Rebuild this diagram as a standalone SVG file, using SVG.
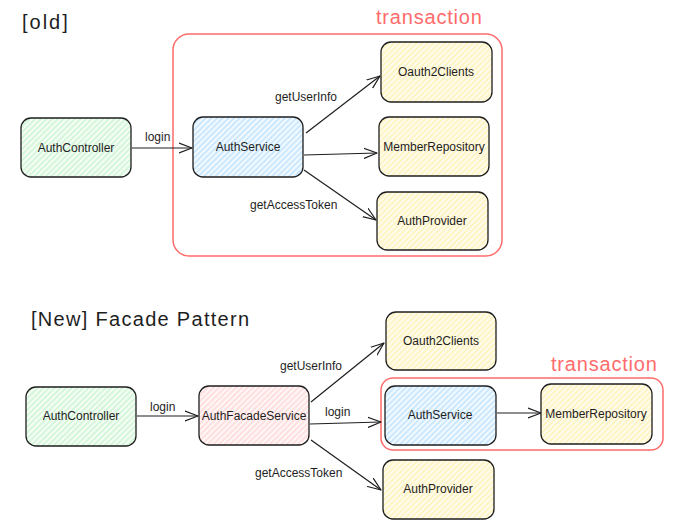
<svg xmlns="http://www.w3.org/2000/svg" width="680" height="529" viewBox="0 0 680 529">
<defs>
<pattern id="hg" width="4" height="4" patternUnits="userSpaceOnUse" patternTransform="rotate(45)"><rect width="4" height="4" fill="#f6fdf7"/><line x1="1" y1="0" x2="1" y2="4" stroke="#b2f2bb" stroke-width="1"/></pattern>
<pattern id="hb" width="4" height="4" patternUnits="userSpaceOnUse" patternTransform="rotate(45)"><rect width="4" height="4" fill="#f2f9ff"/><line x1="1" y1="0" x2="1" y2="4" stroke="#a5d8ff" stroke-width="1"/></pattern>
<pattern id="hy" width="4" height="4" patternUnits="userSpaceOnUse" patternTransform="rotate(45)"><rect width="4" height="4" fill="#fffcee"/><line x1="1" y1="0" x2="1" y2="4" stroke="#ffec99" stroke-width="1"/></pattern>
<pattern id="hp" width="4" height="4" patternUnits="userSpaceOnUse" patternTransform="rotate(45)"><rect width="4" height="4" fill="#fff6f6"/><line x1="1" y1="0" x2="1" y2="4" stroke="#ffc9c9" stroke-width="1"/></pattern>
<marker id="ah" viewBox="0 0 14 12" refX="13" refY="6" markerWidth="14" markerHeight="12" markerUnits="userSpaceOnUse" orient="auto"><path d="M0,1 L13,6 L0,11" fill="none" stroke="#1e1e1e" stroke-width="1.2" stroke-linecap="round" stroke-linejoin="round"/></marker>
</defs>
<style>
.node rect{stroke:#1e1e1e;stroke-width:1.3}
.node text{font-family:"Liberation Sans",Arial,sans-serif;font-size:12px;fill:#1e1e1e;text-anchor:middle;dominant-baseline:central}
.tx{fill:none;stroke:#ff6b6b;stroke-width:1.5}
.txl{font-family:"Liberation Sans",Arial,sans-serif;font-size:20px;letter-spacing:0.8px;fill:#ff6b6b}
.title{font-family:"Liberation Sans",Arial,sans-serif;font-size:20px;fill:#1e1e1e}
.conn line{stroke:#1e1e1e;stroke-width:1.2;marker-end:url(#ah)}
.lbl{font-family:"Liberation Sans",Arial,sans-serif;font-size:12px;fill:#1e1e1e}
</style>
<rect width="680" height="529" fill="#ffffff"/>

<text class="title" x="22" y="29" style="letter-spacing:2px">[old]</text>
<text class="title" x="31" y="326" style="letter-spacing:1.3px">[New] Facade Pattern</text>

<g id="tx-old"><rect class="tx" x="173" y="34" width="329" height="222" rx="16"/><text class="txl" x="376" y="24">transaction</text></g>
<g id="tx-new"><rect class="tx" x="381" y="378" width="282" height="72" rx="12"/><text class="txl" x="551" y="371">transaction</text></g>

<g class="conn" id="connectors">
<line x1="132" y1="148" x2="192" y2="148"/>
<line x1="306" y1="133" x2="380" y2="76"/>
<line x1="304" y1="155" x2="377" y2="153"/>
<line x1="304" y1="170" x2="376" y2="220"/>
<line x1="137" y1="416" x2="198" y2="416"/>
<line x1="311" y1="402" x2="384" y2="343"/>
<line x1="310" y1="424" x2="381" y2="422"/>
<line x1="311" y1="440" x2="381" y2="490"/>
<line x1="497" y1="413" x2="541" y2="413"/>
<text class="lbl" x="145" y="141">login</text>
<text class="lbl" x="275" y="101">getUserInfo</text>
<text class="lbl" x="250" y="209">getAccessToken</text>
<text class="lbl" x="150" y="411">login</text>
<text class="lbl" x="280" y="370">getUserInfo</text>
<text class="lbl" x="325" y="416">login</text>
<text class="lbl" x="255" y="477">getAccessToken</text>
</g>

<g class="node" id="old-authcontroller"><rect x="21" y="118" width="110" height="59" rx="10" fill="url(#hg)"/><text x="76" y="148">AuthController</text></g>
<g class="node" id="old-authservice"><rect x="193" y="117" width="110" height="60" rx="10" fill="url(#hb)"/><text x="248" y="147">AuthService</text></g>
<g class="node" id="old-oauth2clients"><rect x="381" y="42" width="111" height="60" rx="10" fill="url(#hy)"/><text x="436" y="72">Oauth2Clients</text></g>
<g class="node" id="old-memberrepository"><rect x="379" y="117" width="110" height="59" rx="10" fill="url(#hy)"/><text x="434" y="147">MemberRepository</text></g>
<g class="node" id="old-authprovider"><rect x="377" y="192" width="111" height="58" rx="10" fill="url(#hy)"/><text x="432" y="221">AuthProvider</text></g>

<g class="node" id="new-authcontroller"><rect x="26" y="387" width="110" height="59" rx="10" fill="url(#hg)"/><text x="81" y="416">AuthController</text></g>
<g class="node" id="new-authfacadeservice"><rect x="199" y="386" width="110" height="59" rx="10" fill="url(#hp)"/><text x="254" y="416">AuthFacadeService</text></g>
<g class="node" id="new-oauth2clients"><rect x="386" y="312" width="110" height="58" rx="10" fill="url(#hy)"/><text x="441" y="341">Oauth2Clients</text></g>
<g class="node" id="new-authservice"><rect x="385" y="386" width="111" height="59" rx="10" fill="url(#hb)"/><text x="440" y="415">AuthService</text></g>
<g class="node" id="new-memberrepository"><rect x="541" y="384" width="111" height="60" rx="10" fill="url(#hy)"/><text x="596" y="414">MemberRepository</text></g>
<g class="node" id="new-authprovider"><rect x="383" y="460" width="111" height="59" rx="10" fill="url(#hy)"/><text x="438" y="489">AuthProvider</text></g>
</svg>
